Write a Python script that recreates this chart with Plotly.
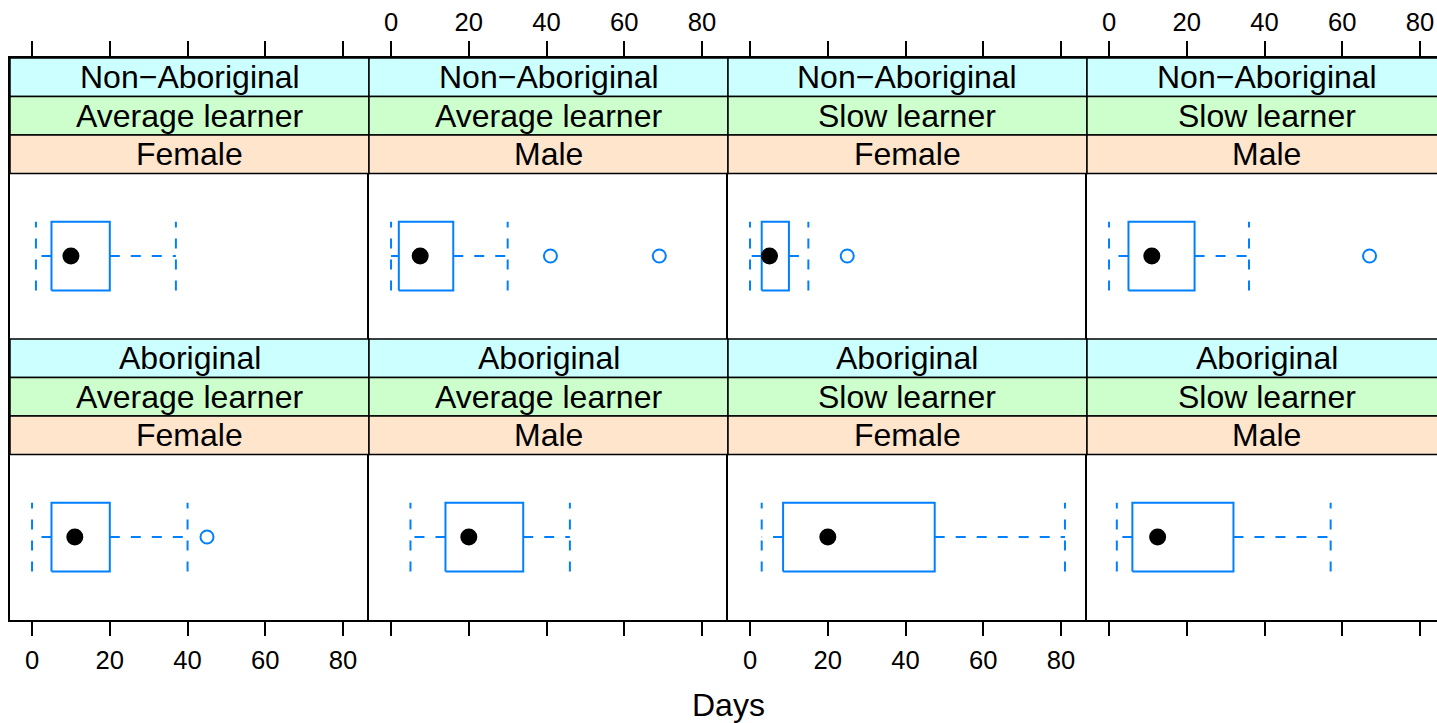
import plotly.graph_objects as go

# ---------------- data ----------------
eth = ["Non−Aboriginal"] * 4 + ["Aboriginal"] * 4
lrn = ["Average learner", "Average learner", "Slow learner", "Slow learner"] * 2
sex = ["Female", "Male", "Female", "Male"] * 2
whisk_lo = [1, 0, 0, 0, 0, 5, 3, 2]
q1 = [5, 2, 3, 5, 5, 14, 8.5, 6]
med = [10, 7.5, 5, 11, 11, 20, 20, 12.5]
q3 = [20, 16, 10, 22, 20, 34, 47.5, 32]
whisk_hi = [37, 30, 15, 36, 40, 46, 81, 57]
outliers = [[], [41, 69], [25], [67], [45], [], [], []]
tick_vals = [0, 20, 40, 60, 80]
tick_text = ["0", "20", "40", "60", "80"]
x_label = "Days"

# ---------------- style / layout constants ----------------
W, H = 1437, 723
FONT = "Liberation Sans, Arial, Helvetica, sans-serif"
BOX_COL = "#0080ff"
STRIP_COLS = ["#ccffff", "#ccffcc", "#ffe5cc"]  # eth, lrn, sex (top to bottom)
col_left = [10, 369, 728, 1087]
panel_w = 359
row_top = [58, 339]
strip_h = 38.5
plot_h = 165
n_strips = 3
half_box = 0.25
LW = 1.5

all_vals = whisk_lo + whisk_hi + [v for o in outliers for v in o]
lo, hi = min(all_vals), max(all_vals)
pad = 0.07 * (hi - lo)
xmin, xmax = lo - pad, hi + pad
ppu = panel_w / (xmax - xmin)
ymin, ymax_plot = 0.4, 1.6
ppy = plot_h / (ymax_plot - ymin)
ymax = ymax_plot + n_strips * strip_h / ppy

fig = go.Figure()
shapes, annotations = [], []

for i in range(8):
    r, c = divmod(i, 4)
    n = i + 1
    xs = "x" if n == 1 else f"x{n}"
    ys = "y" if n == 1 else f"y{n}"
    # box
    fig.add_trace(go.Scatter(
        x=[q1[i], q3[i], q3[i], q1[i], q1[i]],
        y=[1 - half_box, 1 - half_box, 1 + half_box, 1 + half_box, 1 - half_box],
        mode="lines", line=dict(color=BOX_COL, width=2), xaxis=xs, yaxis=ys,
        hoverinfo="skip", showlegend=False))
    # whiskers
    for a, b in ((q1[i], whisk_lo[i]), (q3[i], whisk_hi[i])):
        fig.add_trace(go.Scatter(
            x=[a, b], y=[1, 1], mode="lines",
            line=dict(color=BOX_COL, width=2, dash="10px,11px"),
            xaxis=xs, yaxis=ys, hoverinfo="skip", showlegend=False))
    # caps
    for v in (whisk_lo[i], whisk_hi[i]):
        fig.add_trace(go.Scatter(
            x=[v, v], y=[1 - half_box, 1 + half_box], mode="lines",
            line=dict(color=BOX_COL, width=2, dash="10px,11px"),
            xaxis=xs, yaxis=ys, hoverinfo="skip", showlegend=False))
    # outliers
    if outliers[i]:
        fig.add_trace(go.Scatter(
            x=outliers[i], y=[1] * len(outliers[i]), mode="markers",
            marker=dict(symbol="circle-open", size=13, color=BOX_COL,
                        line=dict(width=2, color=BOX_COL)),
            xaxis=xs, yaxis=ys, showlegend=False))
    # median dot
    fig.add_trace(go.Scatter(
        x=[med[i]], y=[1], mode="markers",
        marker=dict(symbol="circle", size=17, color="black"),
        xaxis=xs, yaxis=ys, showlegend=False))

    # axes
    left_px = col_left[c]
    full_right = left_px + panel_w
    right_px = min(full_right, W)
    x_hi = xmin + (right_px - left_px) / ppu
    top_px = row_top[r]
    bot_px = top_px + n_strips * strip_h + plot_h
    show_lab = (r == 0 and c in (1, 3)) or (r == 1 and c in (0, 2))
    fig.layout[f"xaxis{n}"] = dict(
        domain=[left_px / W, right_px / W], range=[xmin, x_hi],
        anchor=ys, side="top" if r == 0 else "bottom",
        tickvals=tick_vals, ticktext=tick_text, ticks="outside", ticklen=15,
        tickwidth=LW, tickcolor="black", showticklabels=show_lab,
        tickfont=dict(size=25.6, color="black", family=FONT),
        ticklabelstandoff=2 if r == 1 else 0,
        showline=True, mirror=(r == 0), linecolor="black", linewidth=LW,
        showgrid=False, zeroline=False, fixedrange=True)
    fig.layout[f"yaxis{n}"] = dict(
        domain=[1 - bot_px / H, 1 - top_px / H], range=[ymin, ymax],
        anchor=xs, showline=True, mirror=False, linecolor="black",
        linewidth=LW, showgrid=False, zeroline=False, ticks="",
        showticklabels=False, fixedrange=True)

    # strips
    labels = [eth[i], lrn[i], sex[i]]
    for k in range(n_strips):
        s_top = top_px + k * strip_h
        s_bot = s_top + strip_h
        shapes.append(dict(
            type="rect", xref="paper", yref="paper",
            x0=left_px / W, x1=full_right / W,
            y0=1 - s_bot / H, y1=1 - s_top / H,
            fillcolor=STRIP_COLS[k], line=dict(color="black", width=LW),
            layer="above"))
        annotations.append(dict(
            x=(left_px + panel_w / 2) / W, y=1 - (s_top + strip_h / 2) / H,
            xref="paper", yref="paper", text=labels[k], showarrow=False,
            xanchor="center", yanchor="middle",
            font=dict(size=32, color="black", family=FONT)))

annotations.append(dict(
    x=(col_left[0] + (col_left[-1] + panel_w)) / 2 / W, y=1 - 705 / H,
    xref="paper", yref="paper", text=x_label, showarrow=False,
    xanchor="center", yanchor="middle",
    font=dict(size=32, color="black", family=FONT)))

fig.update_layout(
    width=W, height=H, margin=dict(l=0, r=0, t=0, b=0),
    paper_bgcolor="white", plot_bgcolor="white",
    font=dict(family=FONT, color="black"),
    shapes=shapes, annotations=annotations, showlegend=False)

fig.write_html(
    "out.html",
    config={"displayModeBar": False},
    post_script="document.body.style.margin='0';document.body.style.overflow='hidden';")
